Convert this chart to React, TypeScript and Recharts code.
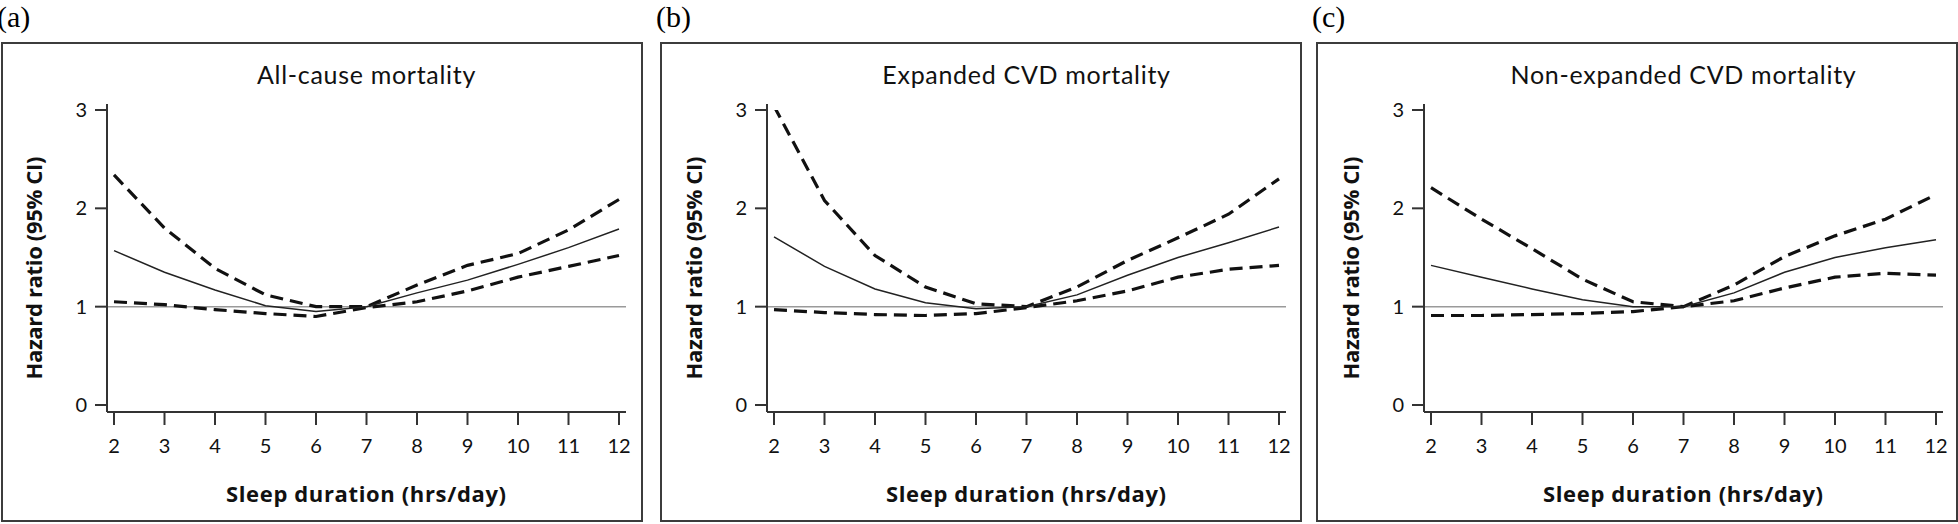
import React from 'react';
import { LineChart, Line, XAxis, YAxis, ReferenceLine, Label } from 'recharts';

const HOURS = [2, 3, 4, 5, 6, 7, 8, 9, 10, 11, 12];
const Y_TICKS = [0, 1, 2, 3];

// (a) all-cause
const ALL_HR = [1.57, 1.35, 1.17, 1.01, 0.95, 1.0, 1.14, 1.27, 1.43, 1.6, 1.79];
const ALL_UPPER = [2.34, 1.8, 1.39, 1.12, 1.0, 1.0, 1.22, 1.42, 1.54, 1.78, 2.09];
const ALL_LOWER = [1.05, 1.02, 0.97, 0.93, 0.9, 0.99, 1.05, 1.16, 1.3, 1.41, 1.52];

// (b) expanded CVD
const EXP_HR = [1.71, 1.41, 1.18, 1.04, 0.98, 1.0, 1.12, 1.32, 1.5, 1.65, 1.81];
const EXP_UPPER = [3.04, 2.08, 1.52, 1.2, 1.03, 1.0, 1.2, 1.47, 1.7, 1.94, 2.3];
const EXP_LOWER = [0.97, 0.94, 0.92, 0.91, 0.93, 0.99, 1.06, 1.16, 1.3, 1.38, 1.42];

// (c) non-expanded CVD
const NON_HR = [1.42, 1.3, 1.18, 1.07, 1.0, 1.0, 1.14, 1.35, 1.5, 1.6, 1.68];
const NON_UPPER = [2.21, 1.89, 1.59, 1.28, 1.05, 1.0, 1.22, 1.51, 1.72, 1.89, 2.14];
const NON_LOWER = [0.91, 0.91, 0.92, 0.93, 0.95, 1.0, 1.06, 1.19, 1.3, 1.34, 1.32];

const SANS = "Lato, 'Open Sans', 'Noto Sans', sans-serif";
const LABEL_FONT = "'Open Sans', 'Noto Sans', sans-serif";

const panels = [
  { letter: '(a)', title: 'All-cause mortality', hr: ALL_HR, upper: ALL_UPPER, lower: ALL_LOWER, boxLeft: 1, chartLeft: 1 },
  { letter: '(b)', title: 'Expanded CVD mortality', hr: EXP_HR, upper: EXP_UPPER, lower: EXP_LOWER, boxLeft: 660, chartLeft: 661 },
  { letter: '(c)', title: 'Non-expanded CVD mortality', hr: NON_HR, upper: NON_UPPER, lower: NON_LOWER, boxLeft: 1316, chartLeft: 1318 },
];

function Panel({ p }: { p: (typeof panels)[number] }) {
  const data = HOURS.map((h, i) => ({ h, hr: p.hr[i], upper: p.upper[i], lower: p.lower[i] }));
  return (
    <>
      <div style={{ position: 'absolute', left: p.boxLeft - 4, top: 0, fontFamily: "'Liberation Serif', serif", fontSize: 30, lineHeight: '34px' }}>
        {p.letter}
      </div>
      <div style={{ position: 'absolute', left: p.boxLeft, top: 42, width: 638, height: 476, border: '2px solid #3c3c3c' }} />
      <div style={{ position: 'absolute', left: p.chartLeft, top: 0 }}>
        <LineChart width={642} height={524} data={data} margin={{ top: 104, right: 17, bottom: 62, left: 46 }}>
          <XAxis
            dataKey="h"
            type="number"
            domain={[2, 12]}
            ticks={HOURS}
            padding={{ left: 7, right: 7 }}
            tickSize={13}
            tickMargin={14}
            height={50}
            stroke="#333"
            strokeWidth={2}
            tick={{ fill: '#111', fontSize: 20, fontFamily: SANS }}
          >
            <Label
              content={() => (
                <text
                  x={365}
                  y={502}
                  textAnchor="middle"
                  fontFamily={LABEL_FONT}
                  fontSize={22}
                  fontWeight="bold"
                  textLength={280}
                  lengthAdjust="spacing"
                  fill="#111"
                >
                  Sleep duration (hrs/day)
                </text>
              )}
            />
          </XAxis>
          <YAxis
            type="number"
            domain={[0, 3]}
            ticks={Y_TICKS}
            allowDataOverflow
            padding={{ top: 6, bottom: 7 }}
            width={60}
            tickSize={12}
            tickMargin={8}
            stroke="#333"
            strokeWidth={2}
            tick={{ fill: '#111', fontSize: 20, fontFamily: SANS }}
          >
            <Label
              content={() => (
                <text
                  x={41}
                  y={268}
                  transform="rotate(-90 41 268)"
                  textAnchor="middle"
                  fontFamily={LABEL_FONT}
                  fontSize={22}
                  fontWeight="bold"
                  textLength={223}
                  lengthAdjust="spacing"
                  fill="#111"
                >
                  Hazard ratio (95% CI)
                </text>
              )}
            />
          </YAxis>
          <ReferenceLine y={1} stroke="#9a9a9a" strokeWidth={1.5} />
          <Line type="linear" dataKey="upper" stroke="#111" strokeWidth={3.2} strokeDasharray="13 7" dot={false} isAnimationActive={false} />
          <Line type="linear" dataKey="lower" stroke="#111" strokeWidth={3.2} strokeDasharray="13 7" dot={false} isAnimationActive={false} />
          <Line type="linear" dataKey="hr" stroke="#222" strokeWidth={1.5} dot={false} isAnimationActive={false} />
        </LineChart>
      </div>
      <div
        style={{
          position: 'absolute',
          left: p.chartLeft + 106,
          width: 519,
          top: 62,
          textAlign: 'center',
          fontFamily: SANS,
          fontSize: 25,
          lineHeight: '25px',
          letterSpacing: 0.7,
          color: '#111',
        }}
      >
        {p.title}
      </div>
    </>
  );
}

export default function App() {
  return (
    <div style={{ position: 'absolute', left: 0, top: 0, width: 1958, height: 524, background: '#fff' }}>
      {panels.map((p) => (
        <Panel key={p.letter} p={p} />
      ))}
    </div>
  );
}
